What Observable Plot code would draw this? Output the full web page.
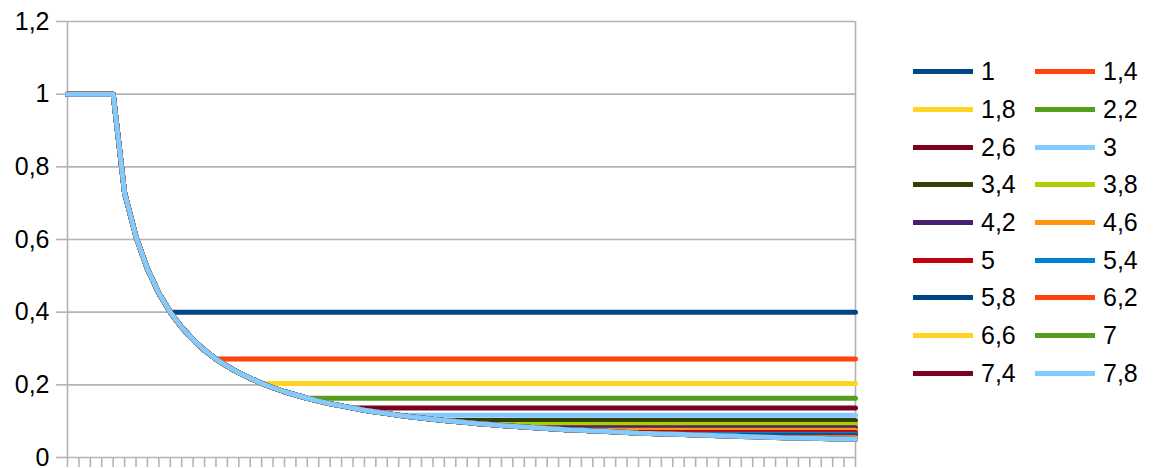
<!DOCTYPE html>
<html>
<head>
<meta charset="utf-8">
<script src="https://cdn.jsdelivr.net/npm/d3@7"></script>
<script src="https://cdn.jsdelivr.net/npm/@observablehq/plot@0.6"></script>
<style>
  html, body { margin: 0; padding: 0; background: #fff; }
  #wrap { position: relative; width: 1156px; height: 468px; overflow: hidden; font-family: "Liberation Sans", Arial, sans-serif; }
  .sw { position: absolute; width: 60px; height: 5px; }
  .lb { position: absolute; font-size: 25px; line-height: 25px; color: #000; }
</style>
</head>
<body>
<div id="wrap"></div>
<script>
// Category positions (x values, not labelled on the chart)
const categories = [0.1,0.2,0.3,0.4,0.5,0.6,0.7,0.8,0.9,1.0,1.1,1.2,1.3,1.4,1.5,1.6,1.7,1.8,1.9,2.0,
  2.1,2.2,2.3,2.4,2.5,2.6,2.7,2.8,2.9,3.0,3.1,3.2,3.3,3.4,3.5,3.6,3.7,3.8,3.9,4.0,
  4.1,4.2,4.3,4.4,4.5,4.6,4.7,4.8,4.9,5.0,5.1,5.2,5.3,5.4,5.5,5.6,5.7,5.8,5.9,6.0,
  6.1,6.2,6.3,6.4,6.5,6.6,6.7,6.8,6.9,7.0];

// Shared decaying curve
const baseCurve = [1,1,1,1,1,0.728,0.607,0.519,0.452,0.400,0.358,0.324,0.295,0.271,0.251,0.233,0.218,0.204,0.192,0.181,
  0.172,0.163,0.155,0.148,0.142,0.136,0.130,0.125,0.121,0.116,0.112,0.109,0.105,0.102,0.099,0.096,0.093,0.091,0.088,0.086,
  0.084,0.082,0.080,0.078,0.076,0.075,0.073,0.072,0.070,0.069,0.067,0.066,0.065,0.064,0.063,0.062,0.061,0.060,0.059,0.058,
  0.057,0.056,0.055,0.054,0.054,0.053,0.052,0.051,0.051,0.050];

// Series names and the flat level each one settles at (0 = no plateau visible)
const seriesNames = ["1","1,4","1,8","2,2","2,6","3","3,4","3,8","4,2","4,6","5","5,4","5,8","6,2","6,6","7","7,4","7,8"];
const plateauLevels = [0.400,0.271,0.204,0.163,0.136,0.116,0.102,0.091,0.082,0.075,0.069,0.064,0.060,0.056,0.053,0.050,0,0];
const seriesColors = ["#004586","#ff420e","#ffd320","#579d1c","#7e0021","#83caff","#314004","#aecf00","#4b1f6f","#ff950e",
  "#c5000b","#0084d1","#004586","#ff420e","#ffd320","#579d1c","#7e0021","#83caff"];

const yTicks = [0, 0.2, 0.4, 0.6, 0.8, 1.0, 1.2];

const rows = [];
seriesNames.forEach((name, s) => {
  categories.forEach((c, i) => {
    rows.push({series: name, i, y: Math.max(baseCurve[i], plateauLevels[s])});
  });
});
const idx = categories.map((c, i) => i);
const grey = "#b3b3b3";

const chart = Plot.plot({
  width: 1156,
  height: 468,
  marginLeft: 67,
  marginRight: 301,
  marginTop: 21,
  marginBottom: 11,
  x: {domain: [0, categories.length - 1], label: null},
  y: {domain: [0, 1.2], label: null},
  color: {domain: seriesNames, range: seriesColors},
  style: {fontFamily: "Liberation Sans, Arial, sans-serif", fontSize: "25px", color: "#000", background: "#fff", overflow: "visible"},
  marks: [
    Plot.ruleY(yTicks, {stroke: grey, strokeWidth: 1.6}),
    Plot.ruleX([categories.length - 1], {stroke: grey, strokeWidth: 1.6}),
    Plot.ruleX([0], {stroke: grey, strokeWidth: 1.6}),
    Plot.axisY({ticks: yTicks, tickSize: 11, tickPadding: 7, stroke: grey, strokeWidth: 1.6,
      tickFormat: d => String(d).replace(".", ",")}),
    Plot.axisX({ticks: idx, tickSize: 10, tickPadding: 0, stroke: grey, strokeWidth: 1.6, tickFormat: () => ""}),
    Plot.line(rows, {x: "i", y: "y", z: "series", stroke: "series", strokeWidth: 5, strokeLinejoin: "round"})
  ]
});

const wrap = document.getElementById("wrap");
wrap.appendChild(chart);

// Legend (two columns)
const legend = document.createElement("div");
legend.style.position = "absolute";
legend.style.left = "0";
legend.style.top = "0";
seriesNames.forEach((name, s) => {
  const col = s % 2, row = Math.floor(s / 2);
  const cy = 71.7 + row * 37.67;
  const sx = col === 0 ? 913 : 1035;
  const sw = document.createElement("div");
  sw.className = "sw";
  sw.style.left = sx + "px";
  sw.style.top = (cy - 2.5) + "px";
  sw.style.background = seriesColors[s];
  legend.appendChild(sw);
  const lb = document.createElement("div");
  lb.className = "lb";
  lb.style.left = (sx + 68) + "px";
  lb.style.top = (cy - 12.5) + "px";
  lb.textContent = name;
  legend.appendChild(lb);
});
wrap.appendChild(legend);
</script>
</body>
</html>
